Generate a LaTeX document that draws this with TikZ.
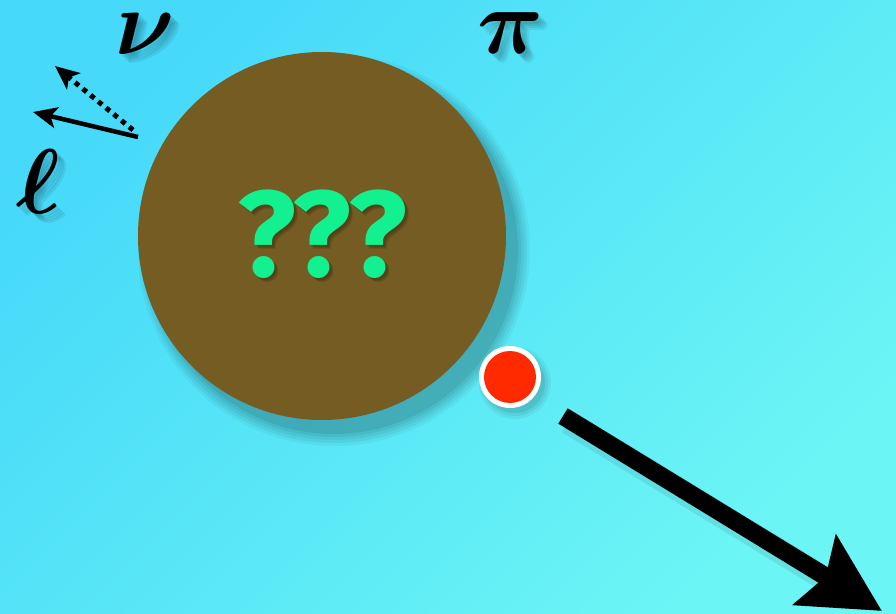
\documentclass[tikz,border=0pt]{standalone}
\usepackage{fix-cm}
\usepackage{bm}
\usepackage{fontspec}
\newfontfamily\qfont{Fira Sans}
\usetikzlibrary{arrows.meta}
\definecolor{bgA}{HTML}{46D9F9}
\definecolor{bgB}{HTML}{6CF5F5}
\definecolor{blob}{HTML}{745C22}
\definecolor{qgreen}{HTML}{12F090}
\definecolor{dotred}{HTML}{FF2A00}
\tikzset{
  sym/.style={font=\fontsize{92}{92}\selectfont, inner sep=0pt},
  symshadow/.style={sym, text=black, opacity=0.07},
  qstyle/.style={font=\qfont\bfseries\fontsize{122}{122}\selectfont, inner sep=0pt},
  thinarrow/.style={line width=4.5pt, -{Stealth[length=24pt,width=21pt,inset=6pt]}},
  bigarrow/.style={line width=18pt, -{Stealth[length=78pt,width=80pt,inset=12pt]}},
}
\begin{document}
\begin{tikzpicture}[x=1pt,y=-1pt]
\useasboundingbox (0,0) rectangle (896,613);
\shade[left color=bgA, right color=bgB, shading angle=45] (0,0) rectangle (896,613);
% circle shadow
\foreach \r/\o in {196/0.04,193/0.05,190/0.05,187/0.06,184/0.07}
  \fill[black, opacity=\o] (334,250) circle (\r);
\fill[blob] (322,236) circle (184) node (blob) {};
% question marks
\foreach \dx in {2,3,4}
  \node[qstyle, text=black, opacity=0.1] at (322+\dx,234+\dx) {???};
\node[qstyle, text=qgreen] (q) at (322,234) {???};
% letters with soft shadows
\foreach \dx in {3,5,7,9}{
  \node[symshadow] at (145+\dx,34+\dx) {$\bm{\nu}$};
  \node[symshadow] at (511+\dx,33+\dx) {$\bm{\pi}$};
  \node[symshadow] at (38+\dx,182+\dx) {$\bm{\ell}$};
}
\node[sym] (nu) at (145,34) {$\bm{\nu}$};
\node[sym] (pi) at (511,33) {$\bm{\pi}$};
\node[sym] (ell) at (38,182) {$\bm{\ell}$};
% lepton / neutrino arrows
\coordinate (ls) at (138,137);
\coordinate (le) at (33,112);
\coordinate (ns) at (133,130);
\coordinate (ne) at (55,66);
\draw[thinarrow] (ls) -- (le);
\draw[line width=5pt, dash pattern=on 5pt off 5pt, -{Stealth[length=24pt,width=21pt,inset=6pt]}] (ns) -- (ne);
% red dot
\foreach \r/\o in {36/0.05,33/0.06,30/0.08}
  \fill[black, opacity=\o] (515,383) circle (\r);
\fill[white] (510,377) circle (31) coordinate (dot);
\fill[dotred] (510,377) circle (26);
% big arrow
\coordinate (as) at (563,416);
\coordinate (ae) at (882,611);
\draw[black, opacity=0.08, line width=24pt] (568,422) -- (830,582);
\draw[bigarrow] (as) -- (ae);
\end{tikzpicture}
\end{document}
